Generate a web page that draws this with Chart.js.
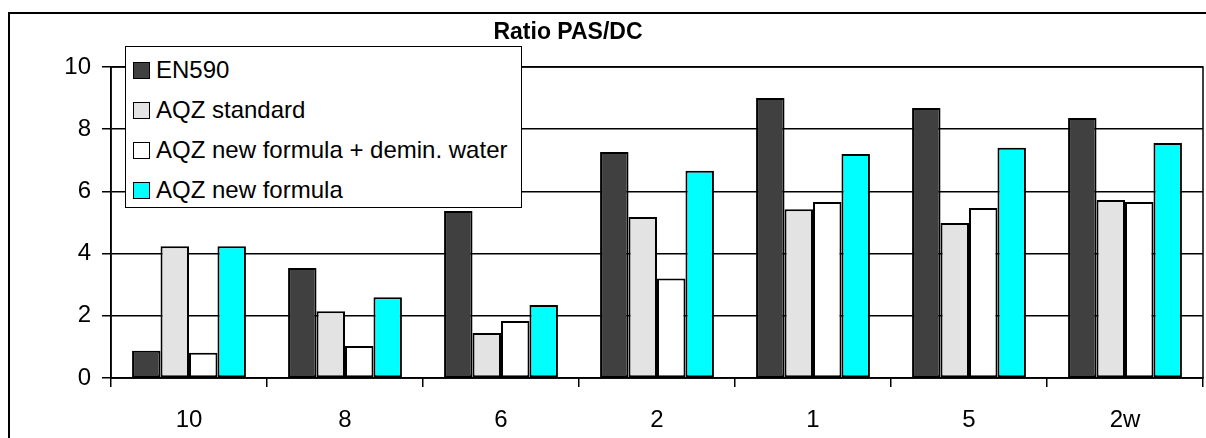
<!DOCTYPE html>
<html>
<head>
<meta charset="utf-8">
<script src="https://cdn.jsdelivr.net/npm/chart.js@4.4.0/dist/chart.umd.min.js"></script>
<style>
  body { margin: 0; background: #fff; }
  #wrap { position: relative; width: 1206px; height: 438px; overflow: hidden; }
  #legend {
    position: absolute; left: 125px; top: 46px; width: 397px; height: 162px;
    box-sizing: border-box; border: 1.5px solid #000; background: #fff;
    padding: 3px 0 0 7px;
    font-family: "Liberation Sans", Arial, sans-serif; font-size: 24px; color: #000;
  }
  #legend .row { height: 40px; display: flex; align-items: center; }
  #legend .sw { width: 17px; height: 17px; box-sizing: border-box; border: 1px solid #000; margin-right: 6px; }
</style>
</head>
<body>
<div id="wrap">
  <canvas id="chart" width="1206" height="438"></canvas>
  <div id="legend"></div>
</div>
<script>
const categories = ['10', '8', '6', '2', '1', '5', '2w'];
const en590 = [0.88, 3.54, 5.37, 7.27, 9.0, 8.68, 8.36];
const aqzStandard = [4.24, 2.15, 1.45, 5.18, 5.43, 4.98, 5.72];
const aqzNewWater = [0.81, 1.03, 1.83, 3.2, 5.66, 5.47, 5.66];
const aqzNew = [4.24, 2.6, 2.35, 6.66, 7.2, 7.4, 7.56];
const yTicks = [0, 2, 4, 6, 8, 10];

const FONT = '"Liberation Sans", Arial, sans-serif';

const series = [
  { label: 'EN590', data: en590, color: '#404040' },
  { label: 'AQZ standard', data: aqzStandard, color: '#e3e3e3' },
  { label: 'AQZ new formula + demin. water', data: aqzNewWater, color: '#ffffff' },
  { label: 'AQZ new formula', data: aqzNew, color: '#00ffff' }
];

// outer frame, plot box and the title
const framePlugin = {
  id: 'frame',
  beforeDraw(chart) {
    const ctx = chart.ctx;
    ctx.save();
    ctx.fillStyle = '#fff';
    ctx.fillRect(0, 0, chart.width, chart.height);
    ctx.strokeStyle = '#000';
    ctx.lineWidth = 2;
    ctx.strokeRect(9, 13, chart.width + 20, chart.height + 20);
    ctx.restore();
  },
  afterDraw(chart) {
    const ctx = chart.ctx;
    const a = chart.chartArea;
    ctx.save();
    ctx.strokeStyle = '#000';
    ctx.lineWidth = 1.5;
    ctx.strokeRect(a.left, a.top, a.right - a.left, a.bottom - a.top);
    ctx.fillStyle = '#000';
    ctx.font = 'bold 23px ' + FONT;
    ctx.textAlign = 'center';
    ctx.textBaseline = 'middle';
    ctx.fillText('Ratio PAS/DC', 568, 33);
    ctx.restore();
  }
};

const chart = new Chart(document.getElementById('chart'), {
  type: 'bar',
  data: {
    labels: categories,
    datasets: series.map(s => ({
      label: s.label,
      data: s.data,
      backgroundColor: s.color,
      borderColor: '#000',
      borderWidth: 2,
      borderSkipped: false,
      categoryPercentage: 0.73,
      barPercentage: 1
    }))
  },
  options: {
    responsive: false,
    animation: false,
    layout: { padding: { top: 67, right: 3, left: 0, bottom: 0 } },
    plugins: {
      legend: { display: false },
      title: { display: false },
      tooltip: { enabled: false }
    },
    scales: {
      x: {
        grid: { drawOnChartArea: false, color: '#000', lineWidth: 1.5, tickLength: 9 },
        border: { color: '#000', width: 1.5 },
        ticks: { color: '#000', font: { family: FONT, size: 24 }, padding: 19, maxRotation: 0 },
        afterFit(scale) { scale.height = 60; }
      },
      y: {
        min: 0,
        max: 10,
        afterBuildTicks(scale) { scale.ticks = yTicks.map(v => ({ value: v })); },
        grid: { color: '#000', lineWidth: 1.5, tickLength: 9 },
        border: { color: '#000', width: 1.5 },
        ticks: { color: '#000', font: { family: FONT, size: 24 }, padding: 11 },
        afterFit(scale) { scale.width = 111; }
      }
    }
  },
  plugins: [framePlugin]
});

// legend box drawn over the plot
const legend = document.getElementById('legend');
chart.data.datasets.forEach(ds => {
  const row = document.createElement('div');
  row.className = 'row';
  const sw = document.createElement('span');
  sw.className = 'sw';
  sw.style.background = ds.backgroundColor;
  row.appendChild(sw);
  row.appendChild(document.createTextNode(ds.label));
  legend.appendChild(row);
});
</script>
</body>
</html>
